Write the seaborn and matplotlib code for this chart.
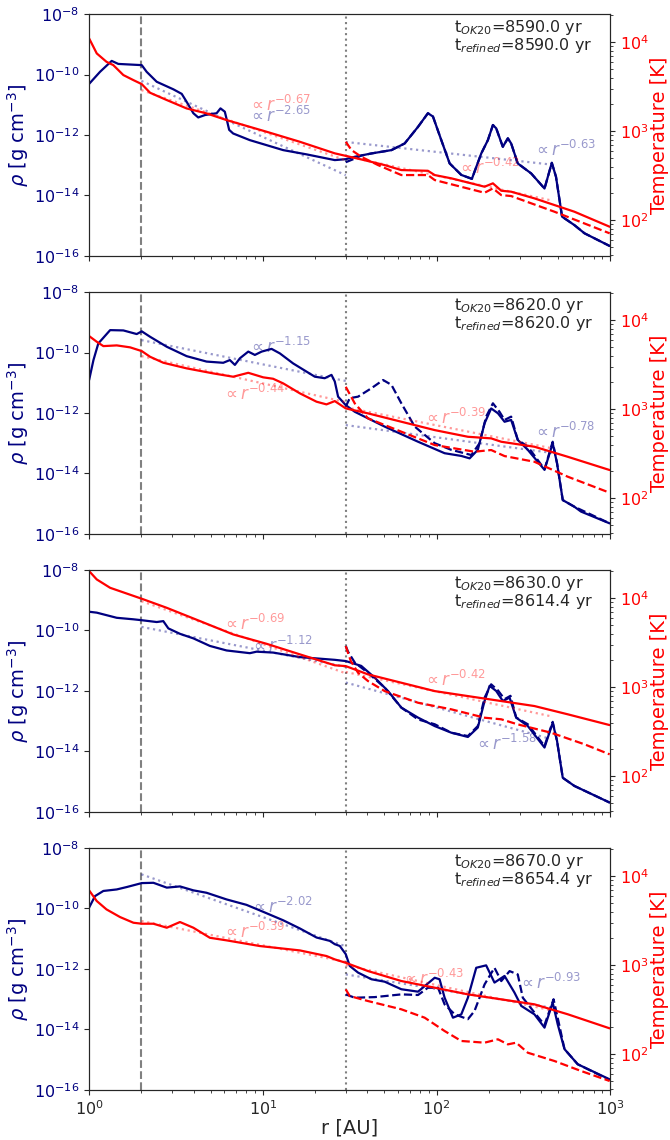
import numpy as np
import matplotlib
matplotlib.use("Agg")
import matplotlib.pyplot as plt
import seaborn as sns

sns.set_style("ticks")
plt.rcParams['font.family'] = ['DejaVu Sans']
plt.rcParams['mathtext.fontset'] = 'dejavusans'

RHO_COLOR = 'navy'
T_COLOR = 'red'
FIT_ALPHA = 0.4

# all radii are log10(r / AU); densities log10(rho / g cm^-3); temperatures log10(T / K)

# ---------------- panel 1 ----------------
P1_TIMES = ('8590.0', '8590.0')
P1_RHO_LOGR = [0.000, 0.063, 0.130, 0.168, 0.303, 0.331, 0.389, 0.485, 0.533, 0.561, 0.600, 0.628, 0.667,
               0.734, 0.756, 0.781, 0.795, 0.806, 0.829, 0.925, 1.117, 1.251, 1.414, 1.477, 1.529, 1.625,
               1.740, 1.816, 1.893, 1.950, 1.979, 2.027, 2.075, 2.142, 2.203, 2.257, 2.295, 2.324, 2.343,
               2.381, 2.410, 2.429, 2.467, 2.544, 2.621, 2.663, 2.687, 2.722, 2.793, 2.851, 2.996]
P1_RHO = [-10.31, -9.91, -9.55, -9.65, -9.69, -9.91, -10.24, -10.49, -10.64, -10.90, -11.28, -11.42, -11.34,
          -11.28, -11.12, -11.23, -11.56, -11.83, -11.95, -12.17, -12.50, -12.64, -12.83, -12.80, -12.72, -12.61,
          -12.50, -12.28, -11.73, -11.28, -11.39, -12.17, -12.94, -13.32, -13.45, -12.61, -12.17, -11.67, -11.78,
          -12.39, -12.11, -12.28, -12.94, -13.27, -13.77, -12.92, -13.38, -14.70, -14.98, -15.25, -15.67]
P1_RHOREF_LOGR = [1.477, 1.529, 1.566, 1.625, 1.740, 1.816, 1.893, 1.950, 1.979, 2.027, 2.075, 2.142, 2.203,
                  2.257, 2.295, 2.324, 2.343, 2.381, 2.410, 2.429, 2.467, 2.544, 2.621, 2.663, 2.687, 2.722,
                  2.793, 2.851, 2.996]
P1_RHOREF = [-12.90, -12.78, -12.68, -12.61, -12.50, -12.28, -11.73, -11.28, -11.39, -12.17, -12.94, -13.32, -13.45,
             -12.61, -12.17, -11.67, -11.78, -12.39, -12.11, -12.28, -12.94, -13.27, -13.77, -12.92, -13.38, -14.70,
             -14.98, -15.25, -15.67]
P1_T_LOGR = [0.0, 0.044, 0.100, 0.139, 0.197, 0.255, 0.303, 0.351, 0.447, 0.561, 0.676, 0.791, 1.021, 1.213,
             1.414, 1.566, 1.701, 1.797, 1.950, 1.989, 2.085, 2.276, 2.324, 2.372, 2.429, 2.563, 2.678, 2.793, 2.996]
P1_T = [4.042, 3.873, 3.779, 3.742, 3.630, 3.573, 3.528, 3.431, 3.349, 3.255, 3.199, 3.124, 2.993, 2.880,
        2.750, 2.682, 2.618, 2.562, 2.554, 2.506, 2.469, 2.375, 2.413, 2.330, 2.319, 2.244, 2.169, 2.094, 1.925]
P1_TREF_LOGR = [1.477, 1.510, 1.566, 1.663, 1.797, 1.950, 1.989, 2.276, 2.324, 2.372, 2.429, 2.678, 2.996]
P1_TREF = [2.880, 2.787, 2.712, 2.618, 2.506, 2.506, 2.450, 2.307, 2.356, 2.281, 2.270, 2.094, 1.851]
# fits: inner (2-30 AU) and outer (30-~460 AU), endpoints only
P1_FIT_RHO_IN = ([0.301, 1.477], [-10.21, -13.33])
P1_FIT_T_IN = ([0.301, 1.477], [3.461, 2.673])
P1_FIT_RHO_OUT = ([1.477, 2.663], [-12.23, -12.98])
P1_FIT_T_OUT = ([1.477, 2.663], [2.72, 2.22])
P1_SLOPES = ['-2.65', '-0.67', '-0.63', '-0.42']  # rho_in, T_in, rho_out, T_out
P1_LABEL_LOGR = [0.914, 0.914, 2.557, 2.115]
P1_LABEL_VAL = [-11.37, 3.292, -12.50, 2.585]

# ---------------- panel 2 ----------------
P2_TIMES = ('8620.0', '8620.0')
P2_RHO_LOGR = [0.0, 0.025, 0.053, 0.121, 0.197, 0.274, 0.303, 0.351, 0.447, 0.561, 0.676, 0.772, 0.810, 0.839,
               0.868, 0.916, 0.954, 0.993, 1.050, 1.098, 1.174, 1.299, 1.356, 1.395, 1.414, 1.433, 1.477, 1.529,
               1.701, 1.893, 2.046, 2.142, 2.190, 2.237, 2.276, 2.314, 2.353, 2.391, 2.429, 2.467, 2.525, 2.621,
               2.668, 2.693, 2.726, 2.793, 2.831, 2.996]
P2_RHO = [-10.91, -10.25, -9.70, -9.26, -9.27, -9.39, -9.30, -9.48, -9.81, -10.12, -10.30, -10.34, -10.25, -10.41,
          -10.19, -9.97, -10.08, -9.97, -9.88, -10.03, -10.36, -10.80, -10.85, -10.74, -10.96, -11.46, -11.74, -11.96,
          -12.45, -12.95, -13.33, -13.42, -13.50, -13.22, -12.34, -11.85, -12.01, -12.29, -12.23, -12.89, -13.22, -13.88,
          -13.00, -13.66, -14.88, -15.10, -15.26, -15.65]
P2_RHOREF_LOGR = [1.477, 1.500, 1.548, 1.625, 1.692, 1.740, 1.797, 1.874, 1.989, 2.085, 2.200, 2.247, 2.285,
                  2.324, 2.362, 2.391, 2.429, 2.467, 2.525, 2.621, 2.668, 2.693, 2.726, 2.793, 2.996]
P2_RHOREF = [-11.79, -11.51, -11.46, -11.18, -10.91, -11.07, -11.68, -12.45, -13.00, -13.22, -13.39, -13.00, -12.12,
             -11.68, -11.96, -12.23, -12.12, -12.89, -13.11, -13.86, -12.95, -13.66, -14.88, -15.10, -15.65]
P2_T_LOGR = [0.0, 0.044, 0.082, 0.159, 0.236, 0.303, 0.351, 0.427, 0.561, 0.715, 0.829, 0.916, 1.002, 1.059,
             1.117, 1.213, 1.309, 1.366, 1.414, 1.477, 1.605, 1.797, 1.989, 2.180, 2.314, 2.372, 2.563, 2.755, 2.996]
P2_T = [3.821, 3.757, 3.708, 3.716, 3.694, 3.652, 3.588, 3.521, 3.458, 3.401, 3.364, 3.408, 3.357, 3.341,
        3.289, 3.177, 3.083, 3.053, 3.090, 3.008, 2.952, 2.858, 2.764, 2.689, 2.671, 2.633, 2.577, 2.464, 2.315]
P2_TREF_LOGR = [1.477, 1.529, 1.605, 1.797, 1.989, 2.218, 2.314, 2.391, 2.563, 2.755, 2.996]
P2_TREF = [3.251, 3.064, 2.896, 2.746, 2.596, 2.521, 2.540, 2.472, 2.408, 2.240, 2.060]
P2_FIT_RHO_IN = ([0.301, 1.477], [-9.59, -10.94])
P2_FIT_T_IN = ([0.301, 1.477], [3.596, 3.079])
P2_FIT_RHO_OUT = ([1.477, 2.663], [-12.40, -13.32])
P2_FIT_T_OUT = ([1.477, 2.663], [3.02, 2.56])
P2_SLOPES = ['-1.15', '-0.44', '-0.78', '-0.39']
P2_LABEL_LOGR = [0.914, 0.764, 2.557, 1.921]
P2_LABEL_VAL = [-9.82, 3.169, -12.64, 2.905]

# ---------------- panel 3 ----------------
P3_TIMES = ('8630.0', '8614.4')
P3_RHO_LOGR = [0.0, 0.044, 0.159, 0.255, 0.303, 0.389, 0.427, 0.456, 0.523, 0.600, 0.695, 0.791, 0.925, 0.964,
               1.059, 1.213, 1.414, 1.477, 1.566, 1.644, 1.720, 1.797, 1.893, 1.989, 2.085, 2.180, 2.237, 2.276,
               2.305, 2.343, 2.381, 2.420, 2.458, 2.525, 2.621, 2.668, 2.693, 2.726, 2.793, 2.996]
P3_RHO = [-9.38, -9.41, -9.58, -9.63, -9.66, -9.72, -9.69, -9.93, -10.11, -10.26, -10.51, -10.66, -10.75, -10.70,
          -10.73, -10.88, -10.97, -11.01, -11.17, -11.56, -12.00, -12.55, -12.88, -13.16, -13.38, -13.52, -13.21, -12.33,
          -11.83, -12.00, -12.33, -12.22, -12.88, -13.16, -13.87, -13.05, -13.65, -14.87, -15.14, -15.69]
P3_RHOREF_LOGR = [1.477, 1.490, 1.529, 1.605, 1.701, 1.797, 1.893, 1.989, 2.085, 2.180, 2.237, 2.276, 2.314,
                  2.353, 2.391, 2.425, 2.458, 2.525, 2.621, 2.668, 2.693, 2.726, 2.793, 2.996]
P3_RHOREF = [-10.51, -10.70, -11.06, -11.40, -11.89, -12.55, -12.94, -13.10, -13.38, -13.49, -13.16, -12.22, -11.78,
             -11.98, -12.27, -12.16, -12.88, -13.10, -13.82, -13.02, -13.65, -14.87, -15.14, -15.69]
P3_T_LOGR = [0.0, 0.044, 0.121, 0.303, 0.447, 0.638, 0.829, 1.021, 1.213, 1.414, 1.477, 1.605, 1.797, 1.989,
             2.180, 2.372, 2.563, 2.755, 2.996]
P3_T = [4.304, 4.210, 4.116, 3.993, 3.891, 3.742, 3.592, 3.487, 3.368, 3.245, 3.236, 3.143, 3.049, 2.955,
        2.899, 2.843, 2.787, 2.694, 2.573]
P3_TREF_LOGR = [1.477, 1.506, 1.548, 1.605, 1.701, 1.893, 2.085, 2.276, 2.372, 2.467, 2.659, 2.851, 2.996]
P3_TREF = [3.461, 3.293, 3.161, 3.068, 2.955, 2.824, 2.750, 2.656, 2.638, 2.581, 2.487, 2.357, 2.244]
P3_FIT_RHO_IN = ([0.301, 1.477], [-9.88, -11.20])
P3_FIT_T_IN = ([0.301, 1.477], [3.966, 3.155])
P3_FIT_RHO_OUT = ([1.477, 2.640], [-11.72, -13.56])
P3_FIT_T_OUT = ([1.477, 2.663], [3.17, 2.67])
P3_SLOPES = ['-1.12', '-0.69', '-1.58', '-0.42']
P3_LABEL_LOGR = [0.925, 0.764, 2.218, 1.921]
P3_LABEL_VAL = [-10.50, 3.714, -13.74, 3.079]

# ---------------- panel 4 ----------------
P4_TIMES = ('8670.0', '8654.4')
P4_RHO_LOGR = [0.0, 0.034, 0.082, 0.159, 0.217, 0.303, 0.370, 0.447, 0.523, 0.600, 0.676, 0.791, 0.906, 1.002,
               1.117, 1.213, 1.309, 1.385, 1.414, 1.443, 1.477, 1.500, 1.548, 1.625, 1.701, 1.797, 1.893, 1.989,
               2.017, 2.046, 2.094, 2.142, 2.180, 2.228, 2.285, 2.333, 2.391, 2.448, 2.487, 2.563, 2.621, 2.668,
               2.697, 2.736, 2.812, 2.996]
P4_RHO = [-9.97, -9.59, -9.42, -9.37, -9.29, -9.16, -9.15, -9.31, -9.27, -9.40, -9.48, -9.70, -9.88, -10.11,
          -10.39, -10.66, -10.96, -11.07, -11.18, -11.24, -11.51, -11.90, -12.12, -12.34, -12.42, -12.67, -12.75, -12.29,
          -12.34, -12.95, -13.61, -13.50, -12.95, -11.96, -11.88, -12.45, -12.23, -12.78, -13.22, -13.50, -13.94, -13.11,
          -13.83, -14.65, -15.15, -15.65]
P4_RHOREF_LOGR = [1.477, 1.529, 1.644, 1.797, 1.893, 1.950, 2.008, 2.046, 2.104, 2.180, 2.218, 2.276, 2.333,
                  2.372, 2.420, 2.467, 2.496, 2.563, 2.621, 2.673, 2.705, 2.736, 2.812, 2.996]
P4_RHOREF = [-12.84, -12.95, -12.93, -12.84, -12.86, -12.62, -12.62, -13.17, -13.50, -13.66, -13.39, -12.51, -11.96,
             -12.40, -12.07, -12.18, -12.95, -13.44, -13.85, -13.00, -13.83, -14.65, -15.15, -15.67]
P4_T_LOGR = [0.0, 0.044, 0.100, 0.178, 0.255, 0.303, 0.370, 0.447, 0.523, 0.600, 0.695, 0.791, 0.983, 1.213,
             1.366, 1.414, 1.477, 1.605, 1.797, 1.989, 2.180, 2.372, 2.563, 2.755, 2.996]
P4_T = [3.840, 3.720, 3.626, 3.540, 3.476, 3.465, 3.465, 3.420, 3.484, 3.420, 3.307, 3.278, 3.214, 3.165,
        3.102, 3.064, 3.026, 2.933, 2.821, 2.746, 2.671, 2.615, 2.559, 2.447, 2.289]
P4_TREF_LOGR = [1.477, 1.500, 1.605, 1.797, 1.931, 2.046, 2.142, 2.276, 2.353, 2.410, 2.458, 2.525, 2.678, 2.831, 2.996]
P4_TREF = [2.727, 2.652, 2.596, 2.503, 2.409, 2.259, 2.147, 2.128, 2.166, 2.109, 2.128, 2.015, 1.922, 1.810, 1.697]
P4_FIT_RHO_IN = ([0.301, 1.477], [-8.87, -11.25])
P4_FIT_T_IN = ([0.301, 1.477], [3.495, 3.036])
P4_FIT_RHO_OUT = ([1.477, 2.663], [-12.18, -13.28])
P4_FIT_T_OUT = ([1.477, 2.663], [3.00, 2.49])
P4_SLOPES = ['-2.02', '-0.39', '-0.93', '-0.43']
P4_LABEL_LOGR = [0.925, 0.764, 2.467, 1.797]
P4_LABEL_VAL = [-9.94, 3.373, -12.45, 2.849]

R_INNER = 2.0
R_SWITCH = 30.0
T_LIM = (39.5, 2.07e4)
RHO_LIM = (1e-16, 1e-8)

PANELS = [
    dict(times=P1_TIMES, rho=(P1_RHO_LOGR, P1_RHO), rhoref=(P1_RHOREF_LOGR, P1_RHOREF),
         t=(P1_T_LOGR, P1_T), tref=(P1_TREF_LOGR, P1_TREF),
         fits=[P1_FIT_RHO_IN, P1_FIT_T_IN, P1_FIT_RHO_OUT, P1_FIT_T_OUT],
         slopes=P1_SLOPES, lab_r=P1_LABEL_LOGR, lab_v=P1_LABEL_VAL),
    dict(times=P2_TIMES, rho=(P2_RHO_LOGR, P2_RHO), rhoref=(P2_RHOREF_LOGR, P2_RHOREF),
         t=(P2_T_LOGR, P2_T), tref=(P2_TREF_LOGR, P2_TREF),
         fits=[P2_FIT_RHO_IN, P2_FIT_T_IN, P2_FIT_RHO_OUT, P2_FIT_T_OUT],
         slopes=P2_SLOPES, lab_r=P2_LABEL_LOGR, lab_v=P2_LABEL_VAL),
    dict(times=P3_TIMES, rho=(P3_RHO_LOGR, P3_RHO), rhoref=(P3_RHOREF_LOGR, P3_RHOREF),
         t=(P3_T_LOGR, P3_T), tref=(P3_TREF_LOGR, P3_TREF),
         fits=[P3_FIT_RHO_IN, P3_FIT_T_IN, P3_FIT_RHO_OUT, P3_FIT_T_OUT],
         slopes=P3_SLOPES, lab_r=P3_LABEL_LOGR, lab_v=P3_LABEL_VAL),
    dict(times=P4_TIMES, rho=(P4_RHO_LOGR, P4_RHO), rhoref=(P4_RHOREF_LOGR, P4_RHOREF),
         t=(P4_T_LOGR, P4_T), tref=(P4_TREF_LOGR, P4_TREF),
         fits=[P4_FIT_RHO_IN, P4_FIT_T_IN, P4_FIT_RHO_OUT, P4_FIT_T_OUT],
         slopes=P4_SLOPES, lab_r=P4_LABEL_LOGR, lab_v=P4_LABEL_VAL),
]


def to_lin(pair):
    return 10 ** np.array(pair[0]), 10 ** np.array(pair[1])


def draw_line(ax, pair, color, ls='-', alpha=1.0, lw=1.6):
    x, y = to_lin(pair)
    sns.lineplot(x=x, y=y, ax=ax, color=color, linestyle=ls, alpha=alpha, lw=lw,
                 estimator=None, sort=False)


def plot_panel(ax, d, bottom):
    ax.set_xscale('log')
    ax.set_yscale('log')
    ax2 = ax.twinx()
    ax2.set_yscale('log')

    ax.axvline(R_INNER, color='gray', ls='--', lw=1.5)
    ax.axvline(R_SWITCH, color='gray', ls=':', lw=1.5)

    # power-law fits
    for i, fit in enumerate(d['fits']):
        target = ax if i % 2 == 0 else ax2
        col = RHO_COLOR if i % 2 == 0 else T_COLOR
        draw_line(target, fit, col, ls=':', alpha=FIT_ALPHA, lw=1.6)

    # density (left axis) and temperature (right axis)
    draw_line(ax, d['rho'], RHO_COLOR)
    draw_line(ax, d['rhoref'], RHO_COLOR, ls='--')
    draw_line(ax2, d['t'], T_COLOR)
    draw_line(ax2, d['tref'], T_COLOR, ls='--')

    for i, (s, lr, lv) in enumerate(zip(d['slopes'], d['lab_r'], d['lab_v'])):
        target = ax if i % 2 == 0 else ax2
        col = RHO_COLOR if i % 2 == 0 else T_COLOR
        target.text(10 ** lr, 10 ** lv, r'$\propto r^{%s}$' % s, color=col, alpha=FIT_ALPHA,
                    fontsize=12, ha='left', va='center')

    ax.text(0.70, 0.985, 't$_{OK20}$=%s yr\nt$_{refined}$=%s yr' % d['times'],
            transform=ax.transAxes, ha='left', va='top', fontsize=11.5, linespacing=0.95)

    ax.set_xlim(1, 1000)
    ax.set_ylim(*RHO_LIM)
    ax2.set_ylim(*T_LIM)
    ax.set_yticks([1e-16, 1e-14, 1e-12, 1e-10, 1e-8])
    ax.yaxis.set_minor_locator(matplotlib.ticker.NullLocator())

    ax.set_ylabel(r'$\rho$ [g cm$^{-3}$]', color=RHO_COLOR, fontsize=14, labelpad=2)
    ax2.set_ylabel('Temperature [K]', color=T_COLOR, fontsize=14, labelpad=1)
    ax.tick_params(axis='y', labelcolor=RHO_COLOR, labelsize=11.5)
    ax2.tick_params(axis='y', labelcolor=T_COLOR, labelsize=11.5)
    ax.tick_params(axis='x', labelsize=11.5)
    if bottom:
        ax.set_xlabel('r [AU]', fontsize=14, labelpad=0)


fig, axes = plt.subplots(4, 1, figsize=(6.7, 11.4), dpi=100, sharex=True)
fig.subplots_adjust(left=0.133, right=0.911, top=0.9877, bottom=0.0439, hspace=0.149)
for k, (ax, d) in enumerate(zip(axes, PANELS)):
    plot_panel(ax, d, k == len(PANELS) - 1)

fig.savefig('out.png', dpi=100)
